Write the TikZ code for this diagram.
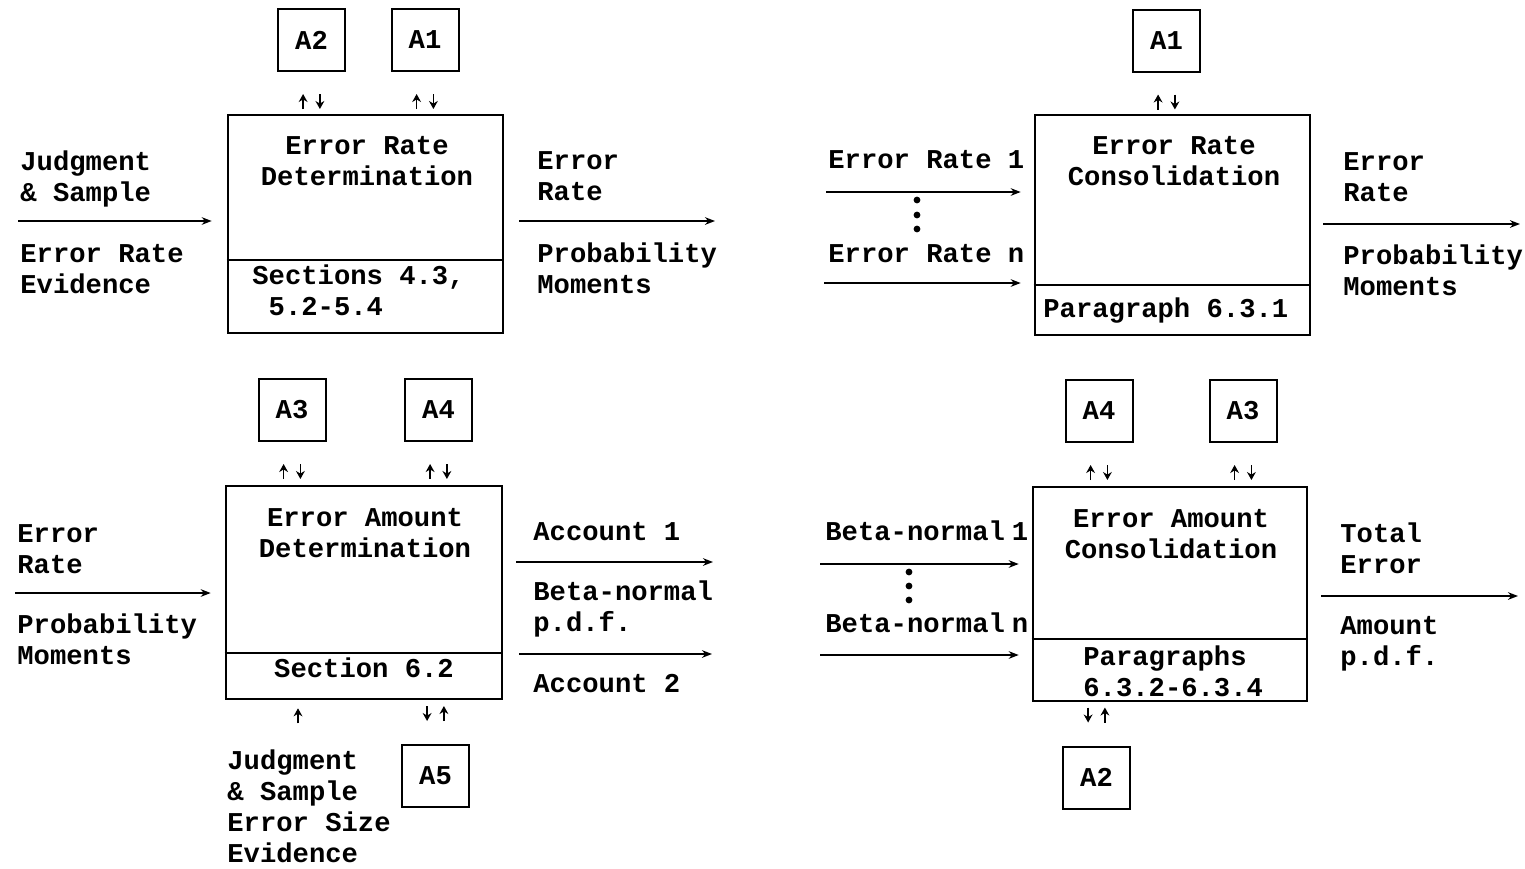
\documentclass[tikz,border=0pt]{standalone}
\usepackage{fontspec}
\setmonofont{Liberation Mono}
\usetikzlibrary{arrows.meta,calc}
% typewriter face used for every label
\newcommand\dgfont{\ttfamily\bfseries\fontsize{13.6pt}{15.5pt}\selectfont}
% line strut: every text line gets the same height and depth
\newcommand\zs{\rule[-3.85pt]{0pt}{15.5pt}}
\begin{document}
\begin{tikzpicture}[x=0.5pt,y=-0.5pt,
  lbl/.style={inner sep=0pt, align=left, anchor=west, font=\dgfont},
  ttl/.style={inner sep=0pt, align=center, font=\dgfont},
  procbox/.style={draw, line width=1.3pt, inner sep=0pt},
  divider/.style={line width=1.1pt},
  refbox/.style={draw, line width=1pt, minimum width=33.5pt, minimum height=31pt, inner sep=0pt, font=\dgfont},
  flow/.style={line width=0.9pt, -{Stealth[length=5pt,width=3.8pt]}},
  tick/.style={line width=0.8pt, -{Stealth[length=4pt,width=4.4pt]}},
  dotmark/.style={radius=1.7pt}]
\useasboundingbox (0,0) rectangle (1525,868);

% ---------- process boxes ----------
\node[procbox, minimum width=137.5pt, minimum height=109pt] (erd) at (365.5,224) {};
\node[procbox, minimum width=137.5pt, minimum height=110pt] (erc) at (1172.5,225) {};
\node[procbox, minimum width=138pt, minimum height=106.5pt] (ead) at (364,592.5) {};
\node[procbox, minimum width=137pt, minimum height=107pt] (eac) at (1170,594) {};

\coordinate (dv1) at (0,260);
\coordinate (dv2) at (0,285);
\coordinate (dv3) at (0,653);
\coordinate (dv4) at (0,639);
\draw[divider] (erd.west |- dv1) -- (erd.east |- dv1);
\draw[divider] (erc.west |- dv2) -- (erc.east |- dv2);
\draw[divider] (ead.west |- dv3) -- (ead.east |- dv3);
\draw[divider] (eac.west |- dv4) -- (eac.east |- dv4);

% box titles and references
\node[ttl] (erdt) at (367,162) {\zs Error Rate\\\zs Determination};
\node[lbl] (erds) at (252,292.5) {\zs Sections 4.3,\\\zs\phantom{5}5.2-5.4};
\node[ttl] (erct) at (1174,162) {\zs Error Rate\\\zs Consolidation};
\node[lbl] (ercs) at (1043,310) {\zs Paragraph 6.3.1};
\node[ttl] (eadt) at (365,534) {\zs Error Amount\\\zs Determination};
\node[ttl] (eads) at (364,670) {\zs Section 6.2};
\node[ttl] (eact) at (1171,535) {\zs Error Amount\\\zs Consolidation};
\node[lbl] (eacs) at (1083,673) {\zs Paragraphs\\\zs 6.3.2-6.3.4};

% ---------- reference boxes ----------
\node[refbox] (a2t) at (311.5,40) {A2};
\node[refbox] (a1t) at (425,40) {A1};
\node[refbox] (a1r) at (1166.5,40.5) {A1};
\node[refbox] (a3l) at (292,410) {A3};
\node[refbox] (a4l) at (438.5,410) {A4};
\node[refbox] (a5l) at (435.5,776) {A5};
\node[refbox] (a4r) at (1099,411) {A4};
\node[refbox] (a3r) at (1243,411) {A3};
\node[refbox] (a2r) at (1096.5,777.5) {A2};

% short two-way marks between reference boxes and process boxes
\foreach \r in {a2t,a1t,a1r,a3l,a4l,a4r,a3r}{
  \draw[tick] ([xshift=-4.2pt]\r.south) ++(0,37) -- ++(0,-15);
  \draw[tick] ([xshift=4.2pt]\r.south) ++(0,22) -- ++(0,15);
}
\foreach \r in {a5l,a2r}{
  \draw[tick] ([xshift=-4.2pt]\r.north) ++(0,-38) -- ++(0,15);
  \draw[tick] ([xshift=4.2pt]\r.north) ++(0,-23) -- ++(0,-15);
}
\draw[tick] ([xshift=-33pt]ead.south) ++(0,23) -- ++(0,-15);

% ---------- upper left: Error Rate Determination ----------
\node[lbl] (jsin) at (20,178.5) {\zs Judgment\\\zs\& Sample};
\node[lbl] (erev) at (20,270.5) {\zs Error Rate\\\zs Evidence};
\coordinate (in1) at (18,221);
\draw[flow, shorten >=7.5pt] (in1) -- (in1 -| erd.west);

\node[lbl] (erout) at (537,177) {\zs Error\\\zs Rate};
\node[lbl] (pmout) at (537,270.5) {\zs Probability\\\zs Moments};
\coordinate (out1) at (715,221);
\draw[flow, shorten <=7.5pt] (erd.east |- out1) -- (out1);

% ---------- upper right: Error Rate Consolidation ----------
\node[lbl] (er1) at (828,161) {\zs Error Rate 1};
\node[lbl] (ern) at (828,255) {\zs Error Rate n};
\coordinate (m1) at (826,192);
\coordinate (mn) at (824,283);
\draw[flow, shorten >=6.5pt] (m1) -- (m1 -| erc.west);
\draw[flow, shorten >=6.5pt] (mn) -- (mn -| erc.west);
\fill (917,200) circle[dotmark];
\fill (917,215) circle[dotmark];
\fill (917,229) circle[dotmark];

\node[lbl] (erout2) at (1343,178) {\zs Error\\\zs Rate};
\node[lbl] (pmout2) at (1343,272.5) {\zs Probability\\\zs Moments};
\coordinate (out2) at (1520,224);
\draw[flow, shorten <=6pt] (erc.east |- out2) -- (out2);

% ---------- lower left: Error Amount Determination ----------
\node[lbl] (erin) at (17,550) {\zs Error\\\zs Rate};
\node[lbl] (pmin) at (17,641) {\zs Probability\\\zs Moments};
\coordinate (in3) at (15,593);
\draw[flow, shorten >=7pt] (in3) -- (in3 -| ead.west);

\node[lbl] (jsz) at (227,808.5) {\zs Judgment\\\zs\& Sample\\\zs Error Size\\\zs Evidence};

\node[lbl] (acc1) at (533,533) {\zs Account 1};
\node[lbl] (bnpdf) at (533,608.5) {\zs Beta-normal\\\zs p.d.f.};
\node[lbl] (acc2) at (533,685) {\zs Account 2};
\coordinate (oa1) at (713,562);
\coordinate (oa2) at (712,654);
\draw[flow, shorten <=6.5pt] (ead.east |- oa1) -- (oa1);
\draw[flow, shorten <=8pt] (ead.east |- oa2) -- (oa2);

% ---------- lower right: Error Amount Consolidation ----------
\node[lbl] (bn1) at (825,533) {\zs Beta-normal\kern3.5pt 1};
\node[lbl] (bnn) at (825,625) {\zs Beta-normal\kern3.5pt n};
\coordinate (b1) at (820,564);
\coordinate (bn) at (820,655);
\draw[flow, shorten >=6.5pt] (b1) -- (b1 -| eac.west);
\draw[flow, shorten >=6.5pt] (bn) -- (bn -| eac.west);
\fill (909,572) circle[dotmark];
\fill (909,586) circle[dotmark];
\fill (909,600) circle[dotmark];

\node[lbl] (toterr) at (1340,550.5) {\zs Total\\\zs Error};
\node[lbl] (amtpdf) at (1340,642) {\zs Amount\\\zs p.d.f.};
\coordinate (out4) at (1518,596);
\draw[flow, shorten <=6.5pt] (eac.east |- out4) -- (out4);
\end{tikzpicture}
\end{document}
